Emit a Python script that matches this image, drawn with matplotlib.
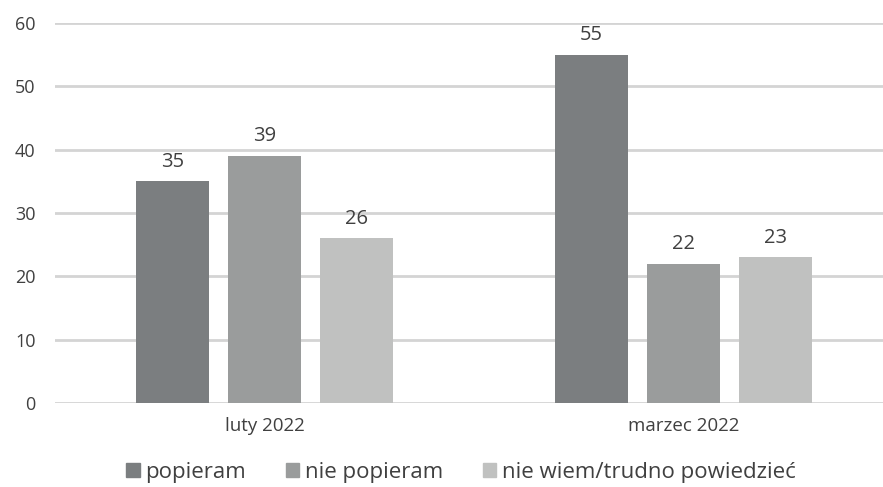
import matplotlib.pyplot as plt
from matplotlib.patches import Patch
import numpy as np

plt.rcParams['font.family'] = ['Open Sans', 'DejaVu Sans']

categories = ['luty 2022', 'marzec 2022']
series = ['popieram', 'nie popieram', 'nie wiem/trudno powiedzieć']
values = {
    'popieram': [35, 55],
    'nie popieram': [39, 22],
    'nie wiem/trudno powiedzieć': [26, 23],
}
colors = ['#7b7e80', '#9a9c9c', '#c0c1c0']
text_color = '#404040'

fig = plt.figure(figsize=(8.83, 4.87), dpi=100)
ax = fig.add_axes([0.0623, 0.1725, 0.9377, 0.7803])

x = np.arange(len(categories))
width = 0.174
pitch = 0.22
for i, name in enumerate(series):
    pos = x + (i - 1) * pitch
    bars = ax.bar(pos, values[name], width=width, color=colors[i], zorder=3)
    for b, v in zip(bars, values[name]):
        ax.text(b.get_x() + b.get_width() / 2, v + 2.3, str(v), ha='center', va='baseline',
                fontsize=14.5, color=text_color)

ax.set_ylim(0, 60)
ax.set_xlim(-0.5, 1.476)
ax.set_yticks(range(0, 61, 10))
ax.yaxis.grid(True, color='#d4d4d4', linewidth=2)
ax.set_axisbelow(True)
for s in ax.spines.values():
    s.set_visible(False)
ax.tick_params(axis='y', length=0, labelsize=13, colors=text_color, pad=14)
ax.tick_params(axis='x', length=0, labelsize=13.5, colors=text_color, pad=10)
ax.set_xticks(x)
ax.set_xticklabels(categories)

handles = [Patch(color=c, label=s) for c, s in zip(colors, series)]
fig.legend(handles=handles, loc='center', bbox_to_anchor=(0.522, 0.03), ncol=3, frameon=False,
           fontsize=16, handlelength=0.6, handleheight=0.6, handletextpad=0.25, columnspacing=1.8,
           labelcolor=text_color)

fig.savefig('out.png', dpi=100)
